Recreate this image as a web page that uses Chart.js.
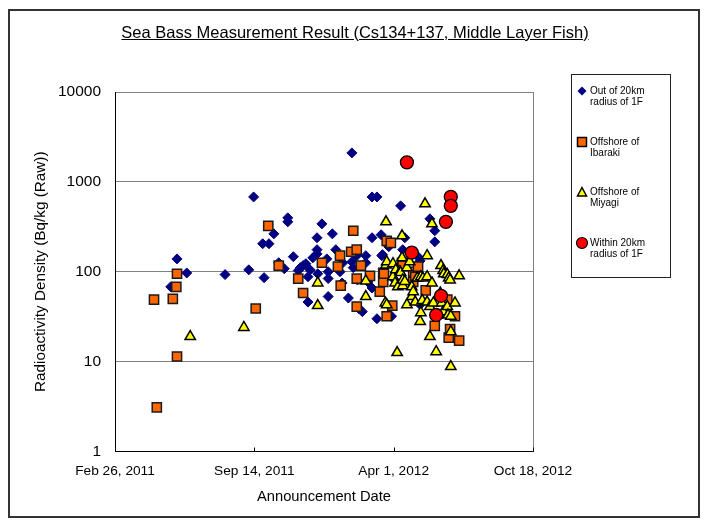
<!DOCTYPE html>
<html>
<head>
<meta charset="utf-8">
<title>Sea Bass Measurement Result</title>
<script src="https://cdn.jsdelivr.net/npm/chart.js@4.4.0/dist/chart.umd.min.js"></script>
<style>
  body { margin: 0; background: #fff; font-family: Arial, "Liberation Sans", sans-serif; }
  #wrap { position: relative; width: 704px; height: 525px; }
  #chart { position: absolute; left: 0; top: 0; }
  #frame { position: absolute; left: 8px; top: 9px; width: 692px; height: 509px; border: 2px solid #333; box-sizing: border-box; pointer-events: none; }
  #title { position: absolute; left: 0; top: 23px; width: 710px; text-align: center; font-size: 16.5px; line-height: 19px; text-decoration: underline; color: #000; }
  #legend { position: absolute; left: 571px; top: 74px; width: 100px; height: 204px; border: 1px solid #222; box-sizing: border-box; background: #fff; }
  .item { position: absolute; left: 0; width: 98px; height: 24px; }
  .item svg { position: absolute; left: 3px; top: -2px; }
  .item span { position: absolute; left: 18px; top: 0; font-size: 10px; line-height: 10.5px; color: #000; white-space: nowrap; }
</style>
</head>
<body>
<div id="wrap">
  <canvas id="chart" width="704" height="525"></canvas>
  <div id="frame"></div>
  <div id="title">Sea Bass Measurement Result (Cs134+137, Middle Layer Fish)</div>
  <div id="legend">
    <div class="item" style="top:11px">
      <svg width="14" height="14"><polygon points="7,2.5 11.5,7 7,11.5 2.5,7" fill="#000080"/></svg>
      <span>Out of 20km<br>radius of 1F</span>
    </div>
    <div class="item" style="top:62px">
      <svg width="14" height="14"><rect x="2.5" y="2.5" width="9" height="9" fill="#FF6600" stroke="#000" stroke-width="1.5"/></svg>
      <span>Offshore of<br>Ibaraki</span>
    </div>
    <div class="item" style="top:112px">
      <svg width="14" height="14"><polygon points="7,2.5 11.5,11 2.5,11" fill="#FFFF00" stroke="#000" stroke-width="1.5"/></svg>
      <span>Offshore of<br>Miyagi</span>
    </div>
    <div class="item" style="top:163px">
      <svg width="14" height="14"><circle cx="7" cy="7" r="5.5" fill="#FF0000" stroke="#000" stroke-width="1.2"/></svg>
      <span>Within 20km<br>radius of 1F</span>
    </div>
  </div>
</div>
<script>
// Axis ticks
const xTickDates = ["2011-02-26", "2011-09-14", "2012-04-01", "2012-10-18"];
const xTickLabels = ["Feb 26, 2011", "Sep 14, 2011", "Apr 1, 2012", "Oct 18, 2012"];
const yTicks = [1, 10, 100, 1000, 10000];

// Out of 20km radius of 1F
const outDates = [
  "2011-05-17", "2011-05-26", "2011-06-09", "2011-08-03", "2011-09-06", "2011-09-13", "2011-09-26", "2011-09-28", "2011-10-05", "2011-10-12",
  "2011-10-19", "2011-10-27", "2011-11-01", "2011-11-01", "2011-11-09", "2011-11-16", "2011-11-19", "2011-11-23", "2011-11-27", "2011-11-30",
  "2011-11-30", "2011-12-03", "2011-12-07", "2011-12-13", "2011-12-13", "2011-12-13", "2011-12-14", "2011-12-20", "2011-12-27", "2011-12-29",
  "2011-12-29", "2011-12-29", "2012-01-04", "2012-01-09", "2012-01-15", "2012-01-18", "2012-01-19", "2012-01-27", "2012-02-01", "2012-02-01",
  "2012-02-03", "2012-02-08", "2012-02-09", "2012-02-11", "2012-02-16", "2012-02-21", "2012-02-21", "2012-02-24", "2012-03-01", "2012-03-01",
  "2012-03-01", "2012-03-08", "2012-03-08", "2012-03-14", "2012-03-15", "2012-03-16", "2012-03-25", "2012-03-29", "2012-04-03", "2012-04-11",
  "2012-04-14", "2012-04-17", "2012-05-06", "2012-05-09", "2012-05-09", "2012-05-23", "2012-05-30", "2012-05-30",
];
const outValues = [
  68, 139, 97, 93, 105, 680, 205, 86, 205, 264,
  126, 108, 398, 359, 147, 103, 111, 117, 123, 88,
  46, 105, 143, 239, 176, 158, 95, 341, 139, 84,
  100, 53, 264, 176, 100, 75, 126, 51, 2100, 129,
  111, 151, 81, 39, 36, 151, 126, 77, 680, 239,
  66, 680, 30, 258, 151, 155, 190, 32, 80, 541,
  176, 239, 147, 132, 43, 388, 286, 215,
];

// Offshore of Ibaraki
const ibarakiDates = [
  "2011-04-23", "2011-04-27", "2011-05-20", "2011-05-25", "2011-05-26", "2011-05-26", "2011-09-16", "2011-10-04", "2011-10-19", "2011-11-16",
  "2011-11-23", "2011-12-20", "2012-01-12", "2012-01-15", "2012-01-16", "2012-01-31", "2012-02-03", "2012-02-08", "2012-02-08", "2012-02-08",
  "2012-02-14", "2012-02-27", "2012-03-12", "2012-03-17", "2012-03-17", "2012-03-18", "2012-03-22", "2012-03-22", "2012-03-28", "2012-03-30",
  "2012-04-13", "2012-04-14", "2012-04-29", "2012-04-29", "2012-05-02", "2012-05-06", "2012-05-17", "2012-05-30", "2012-06-17", "2012-06-19",
  "2012-06-21", "2012-06-28", "2012-07-04",
];
const ibarakiValues = [
  49, 3.1, 50, 68, 11.4, 95, 39, 324, 117, 84,
  58, 126, 114, 151, 70, 167, 286, 176, 84, 41,
  117, 90, 60, 97, 77, 95, 221, 32, 210, 42,
  126, 117, 100, 77, 88, 114, 62, 25, 49, 18.5,
  23, 32, 17.1,
];

// Offshore of Miyagi
const miyagiDates = [
  "2011-06-14", "2011-08-30", "2011-12-14", "2011-12-14", "2012-02-21", "2012-02-21", "2012-03-20", "2012-03-21", "2012-03-21", "2012-03-22",
  "2012-03-22", "2012-03-31", "2012-03-31", "2012-04-03", "2012-04-04", "2012-04-06", "2012-04-07", "2012-04-10", "2012-04-11", "2012-04-13",
  "2012-04-13", "2012-04-14", "2012-04-14", "2012-04-17", "2012-04-20", "2012-04-20", "2012-04-24", "2012-04-27", "2012-04-27", "2012-04-29",
  "2012-05-02", "2012-05-05", "2012-05-09", "2012-05-10", "2012-05-10", "2012-05-12", "2012-05-13", "2012-05-16", "2012-05-19", "2012-05-19",
  "2012-05-19", "2012-05-23", "2012-05-23", "2012-05-26", "2012-05-26", "2012-05-28", "2012-06-01", "2012-06-02", "2012-06-07", "2012-06-08",
  "2012-06-09", "2012-06-11", "2012-06-11", "2012-06-12", "2012-06-17", "2012-06-17", "2012-06-18", "2012-06-19", "2012-06-21", "2012-06-22",
  "2012-06-22", "2012-06-22", "2012-06-28", "2012-07-04",
];
const miyagiValues = [
  19, 24, 75, 42, 79, 53, 45, 359, 119, 129,
  43, 88, 123, 75, 105, 12.6, 68, 100, 98, 251,
  143, 81, 70, 78, 43, 111, 129, 68, 53, 60,
  46, 85, 28, 35, 88, 48, 85, 570, 151, 88,
  46, 41, 19, 341, 75, 45, 12.9, 33, 58, 117,
  45, 103, 36, 95, 93, 41, 33, 85, 81, 32,
  21.5, 8.8, 45, 90,
];

// Within 20km radius of 1F
const withinDates = ["2012-04-20", "2012-04-27", "2012-06-01", "2012-06-08", "2012-06-15", "2012-06-22", "2012-06-22"];
const withinValues = [1650, 163, 33, 54, 359, 681, 541];

// Days counted from the first x tick
const startDate = xTickDates[0];
function dayOf(dateStr) {
  const [y, m, d] = dateStr.split("-").map(Number);
  const [y0, m0, d0] = startDate.split("-").map(Number);
  return (Date.UTC(y, m - 1, d) - Date.UTC(y0, m0 - 1, d0)) / 86400000;
}

function toPoints(dates, values) {
  return dates.map((d, i) => ({ x: dayOf(d), y: values[i] }));
}

// Right border of the plot and the small inner ticks on the date axis
const plotFrame = {
  id: "plotFrame",
  beforeDatasetsDraw(chart) {
    const { ctx, chartArea: a, scales } = chart;
    ctx.save();
    ctx.lineWidth = 1;
    ctx.strokeStyle = "#808080";
    const rx = Math.round(a.right) + 0.5;
    ctx.beginPath();
    ctx.moveTo(rx, a.top);
    ctx.lineTo(rx, a.bottom);
    ctx.stroke();
    ctx.strokeStyle = "#000";
    scales.x.ticks.forEach((t) => {
      const px = Math.round(scales.x.getPixelForValue(t.value)) + 0.5;
      ctx.beginPath();
      ctx.moveTo(px, a.bottom);
      ctx.lineTo(px, a.bottom - 4);
      ctx.stroke();
    });
    ctx.restore();
  },
};

Chart.defaults.color = "#000";
Chart.defaults.font.family = 'Arial, "Liberation Sans", sans-serif';

new Chart(document.getElementById("chart").getContext("2d"), {
  type: "scatter",
  data: {
    datasets: [
      {
        label: "Out of 20km radius of 1F",
        data: toPoints(outDates, outValues),
        pointStyle: "rectRot",
        pointRadius: 5,
        backgroundColor: "#000080",
        borderColor: "#000080",
        borderWidth: 1,
        order: 4,
      },
      {
        label: "Offshore of Ibaraki",
        data: toPoints(ibarakiDates, ibarakiValues),
        pointStyle: "rect",
        pointRadius: 6.5,
        backgroundColor: "#FF6600",
        borderColor: "#1a1a1a",
        borderWidth: 1.5,
        order: 3,
      },
      {
        label: "Offshore of Miyagi",
        data: toPoints(miyagiDates, miyagiValues),
        pointStyle: "triangle",
        pointRadius: 6,
        backgroundColor: "#FFFF00",
        borderColor: "#000",
        borderWidth: 1.5,
        order: 2,
      },
      {
        label: "Within 20km radius of 1F",
        data: toPoints(withinDates, withinValues),
        pointStyle: "circle",
        pointRadius: 6.5,
        backgroundColor: "#FF0000",
        borderColor: "#000",
        borderWidth: 1.3,
        order: 1,
      },
    ],
  },
  options: {
    responsive: false,
    animation: false,
    events: [],
    layout: { padding: { left: 28, right: 171, top: 92, bottom: 15 } },
    plugins: {
      legend: { display: false },
      tooltip: { enabled: false },
    },
    scales: {
      x: {
        type: "linear",
        min: dayOf(xTickDates[0]),
        max: dayOf(xTickDates[xTickDates.length - 1]),
        afterBuildTicks: (s) => { s.ticks = xTickDates.map((d) => ({ value: dayOf(d) })); },
        afterFit: (s) => { s.height = 58.5; },
        grid: { display: false, drawTicks: false },
        border: { display: true, color: "#000", width: 1 },
        ticks: {
          autoSkip: false,
          maxRotation: 0,
          padding: 12,
          font: { size: 13.7 },
          callback: (v, i) => xTickLabels[i],
        },
        title: { display: true, text: "Announcement Date", font: { size: 14.7 }, padding: { top: 4, bottom: 4 } },
      },
      y: {
        type: "logarithmic",
        min: yTicks[0],
        max: yTicks[yTicks.length - 1],
        afterBuildTicks: (s) => { s.ticks = yTicks.map((v) => ({ value: v })); },
        afterFit: (s) => { s.width = 87; },
        grid: { color: "#808080", lineWidth: 1, drawTicks: false },
        border: { display: true, color: "#000", width: 1 },
        ticks: {
          padding: 14,
          font: { size: 15.5 },
          callback: (v) => String(v),
        },
        title: { display: true, text: "Radioactivity Density (Bq/kg (Raw))", font: { size: 15.3 }, padding: { top: 4, bottom: 4 } },
      },
    },
  },
  plugins: [plotFrame],
});
</script>
</body>
</html>
